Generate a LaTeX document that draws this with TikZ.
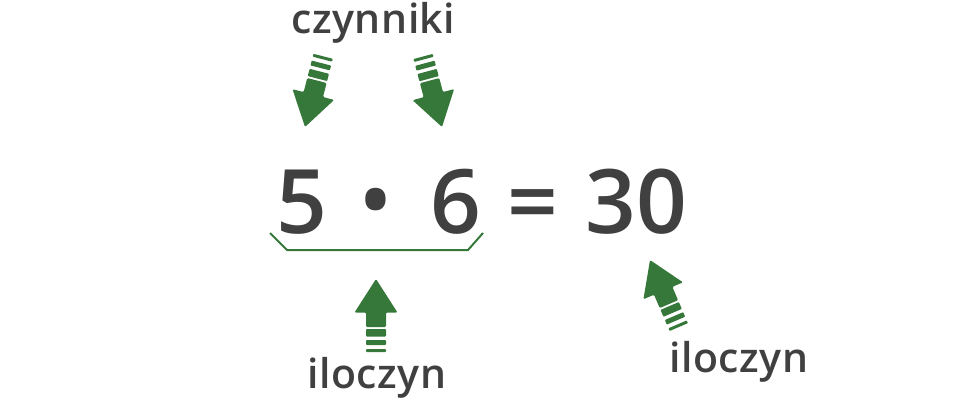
\documentclass[tikz,border=0pt]{standalone}
\usepackage{fontspec}
\setmainfont{Open Sans}
\newfontfamily\semib{Open Sans Semibold}
\newfontfamily\semibsp{Open Sans Semibold}[LetterSpace=1.2]
\definecolor{txt}{HTML}{404040}
\definecolor{grn}{HTML}{36783A}
\tikzset{
  lbl/.style={font=\fontsize{41}{44}\selectfont\semibsp, text=txt, inner sep=0pt, anchor=base},
  big/.style={font=\fontsize{89}{94}\selectfont\semib, text=txt, inner sep=0pt, anchor=base},
  brace/.style={draw=grn, line width=2pt},
  fatarrow/.pic={
    \fill[grn, rounded corners=1.2pt] (0,0) -- (21.5,33.5) -- (10,33.5) -- (10,48) -- (-10,48) -- (-10,33.5) -- (-21.5,33.5) -- cycle;
    \fill[grn, rounded corners=0.8pt] (-10,50) rectangle (10,57.5);
    \fill[grn, rounded corners=0.8pt] (-10,61) rectangle (10,66);
    \fill[grn, rounded corners=0.8pt] (-10,70) rectangle (10,73);
  }
}
\begin{document}
\begin{tikzpicture}[x=1pt,y=-1pt]
\useasboundingbox (0,0) rectangle (960,404);
% labels
\node[lbl] (czy) at (373.5,34) {czynniki};
\node[lbl] (ilo1) at (377,388) {iloczyn};
\node[lbl] (ilo2) at (739,372) {iloczyn};
% equation
\node[big] (n5) at (302,233) {5};
\node[big, font=\fontsize{82}{86}\selectfont\semib, anchor=center] (dot) at (376,209) {•};
\node[big] (n6) at (456,233) {6};
\node[big] (eq) at (533,233) {=};
\node[big] (n30) at (636,233) {30};
% brace under 5 · 6
\coordinate (bl) at (270,233);
\coordinate (br) at (483,233);
\draw[brace] (bl) -- (287,250) -- (468,250) -- (br);
% arrows (tip positions)
\coordinate (t1) at (305,127);
\coordinate (t2) at (442,127);
\coordinate (t3) at (376,279);
\coordinate (t4) at (650,260);
\pic[rotate=165.6] at (t1) {fatarrow};
\pic[rotate=195] at (t2) {fatarrow};
\pic at (t3) {fatarrow};
\pic[rotate=23.2] at (t4) {fatarrow};
\end{tikzpicture}
\end{document}
